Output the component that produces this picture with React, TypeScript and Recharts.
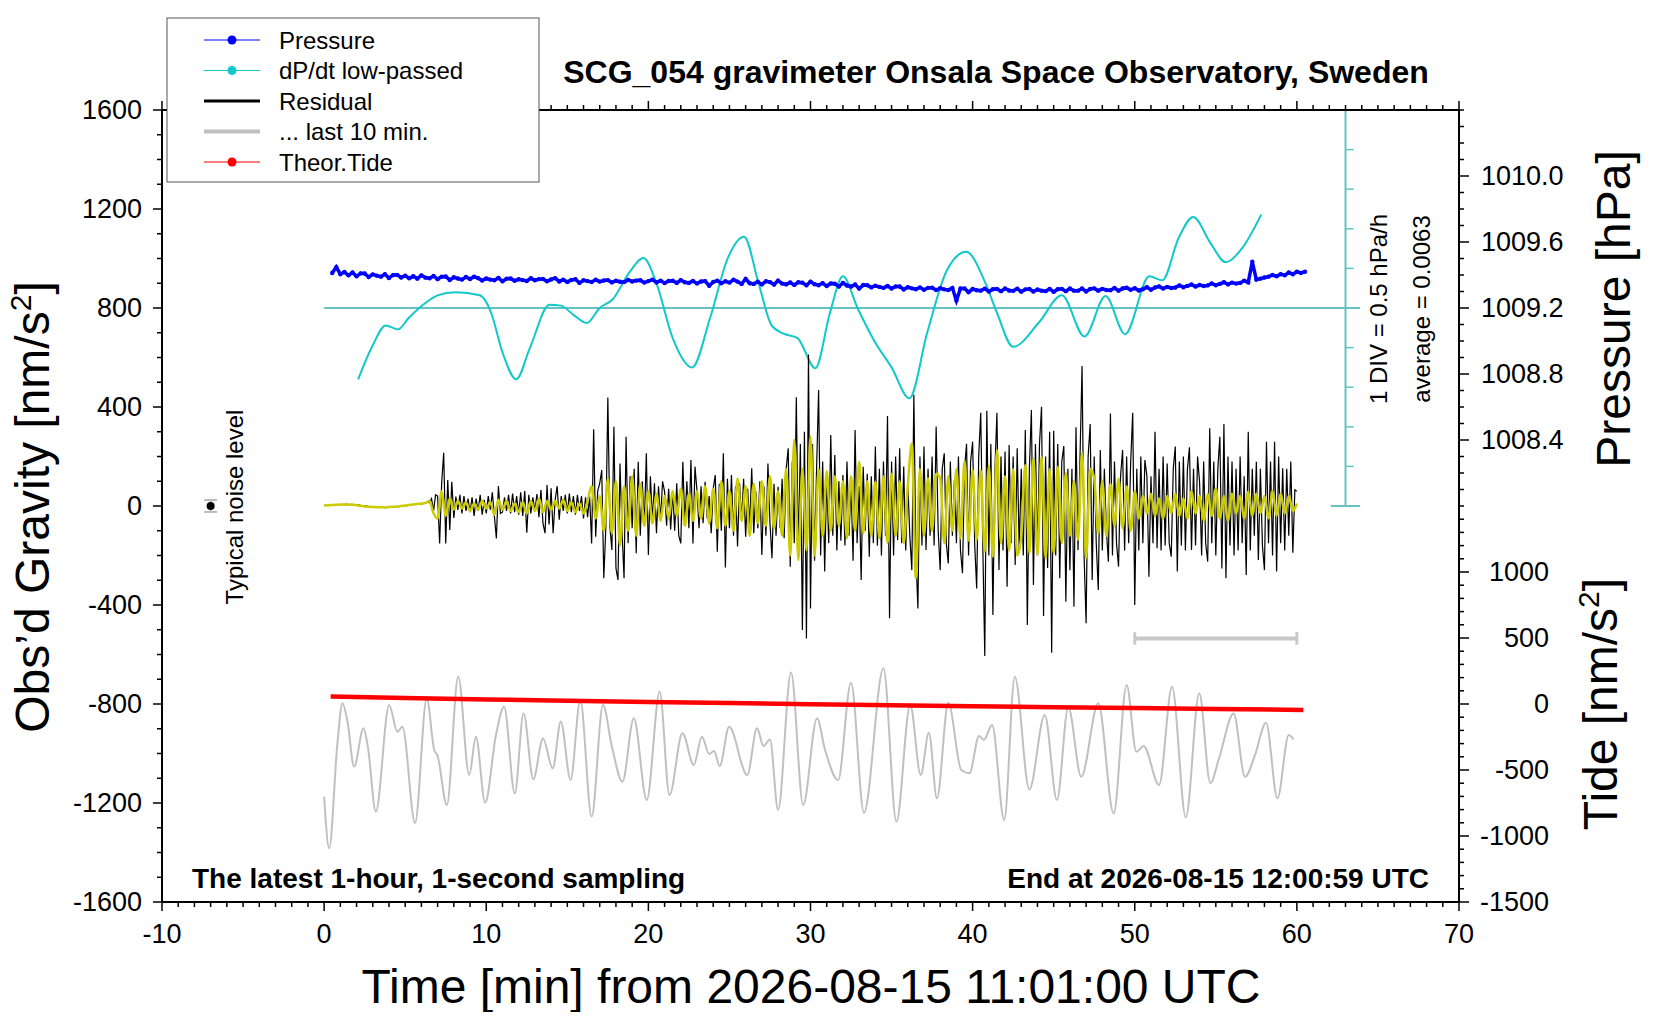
import React from 'react';
import { ComposedChart, Line, XAxis, YAxis, ReferenceLine, ReferenceDot } from 'recharts';

const FONT = '"Liberation Sans", Arial, Helvetica, sans-serif';

// axis labels
const xMajor = [-10, 0, 10, 20, 30, 40, 50, 60, 70];
const gravMajor = [-1600, -1200, -800, -400, 0, 400, 800, 1200, 1600];
const pressureLabels = [1008.4, 1008.8, 1009.2, 1009.6, 1010.0];
const tideLabels = [-1500, -1000, -500, 0, 500, 1000];
const dpdtTicks = [-2.5, -2, -1.5, -1, -0.5, 0, 0.5, 1, 1.5, 2, 2.5];

// residual (nm/s^2), one value every 7.5 s starting at t = 0 min
const RES_STEP = 0.125;
const residual = [
  3, 2, 4, 3, 5, 4, 6, 5, 6, 7, 5, 8, 6, 7, 5, 6,
  4, 5, 3, 2, 1, 0, -2, -3, -4, -3, -5, -6, -4, -5, -7, -6,
  -5, -6, -4, -3, -2, -3, -1, 0, 2, 1, 3, 4, 6, 8, 7, 10,
  8, 10, 12, 15, 14, 30, -20, 45, 40, -151, 92, 215, -151, 105, -97, 98,
  -48, 38, -16, 45, -30, 40, -20, 30, -25, 35, -40, 30, -20, 45, -35, 25,
  -30, 40, -15, 55, -40, -131, 81, -30, -25, 35, -20, 45, -30, 50, -25, 40,
  -35, 55, -40, 60, -108, 45, -30, 35, -20, 48, -45, 65, -70, -110, 85, -75,
  72, -110, 25, 80, -55, 40, -20, 45, -30, 50, -25, 40, -35, 45, -20, 40,
  -50, 35, -45, 40, -151, 310, -124, 60, 92, 145, -292, -90, 438, -83, -178, 320,
  -251, -299, 172, -100, -292, 280, -150, 120, -90, 150, -191, 179, -120, 100, -80, 213,
  -198, 120, -60, 92, -110, 80, -60, 100, 58, -80, 70, -95, 60, -100, 92, -120,
  -151, 179, -70, 100, -90, 186, -151, 159, 60, -90, 80, -70, 98, -50, 40, -110,
  70, 125, -185, 90, -100, 213, -248, 110, -90, 125, -120, 80, -164, 92, -60, 110,
  -124, 70, -80, 152, -110, 60, -90, 100, -198, 80, -120, 172, -70, -211, 90, -120,
  78, -90, 110, -130, 150, 233, -245, 180, -150, 439, -200, 250, -501, 300, -535, 612,
  -414, 250, -221, 150, 469, -200, 180, -265, 120, -150, 287, -120, 206, -180, 100, -140,
  125, -160, 180, -120, 90, -221, 307, -150, 80, -299, 159, -100, 130, -205, 120, -150,
  240, -160, 150, -200, 180, -120, 364, -454, 180, -200, 200, -137, 233, -150, 160, -180,
  100, -120, -259, 449, -200, -414, 200, -160, 240, -178, 150, -120, 200, -160, 321, -100,
  -259, 150, 213, -150, -232, 180, -120, 105, -150, 200, -180, -272, 150, 251, -200, 180,
  260, -150, -333, 200, 377, -150, -606, 385, -200, 250, -440, 150, 377, -259, 200, -180,
  220, -326, 246, -150, 200, -238, 233, -180, 150, -200, 307, -481, 150, 388, -319, 250,
  -200, 250, 401, -444, 200, -250, 300, -593, 304, -200, 250, -292, 180, 242, -387, 150,
  -260, 150, -407, 318, -178, 200, 566, -200, -474, 200, 331, -299, 200, -150, -339, 226,
  -180, 150, -100, -225, 374, -200, 180, -150, -245, 120, 226, -180, 200, -150, 180, 377,
  -400, 150, -180, 200, -150, 186, 120, -286, 120, -150, 300, -171, 150, -180, 200, -160,
  172, -150, -205, 150, 240, -265, 180, -160, 200, -180, 150, 237, -178, 150, -160, 200,
  94, -200, 180, -150, -225, 314, -150, 180, -200, 150, 280, -252, 331, -292, 200, -160,
  180, -200, 150, -180, 200, -150, 120, -279, 300, -180, 150, -120, 179, -218, 150, -160,
  -259, 260, -150, 180, -200, 260, -265, 200, -150, 152, -180, 150, -120, 180, -189, 65,
  60,
];

// low-passed residual (nm/s^2), one value every 15 s starting at t = 0 min
const LP_STEP = 0.25;
const lowPassed = [
  2, 3, 4, 5, 6, 6, 5, 6, 3, 1, -2, -3, -4, -5, -5, -6,
  -4, -3, -2, 0, 2, 4, 6, 8, 10, 12, 20, -30, -50, 60, -40, 30,
  -15, 20, -10, 15, -20, 10, -15, 20, -10, 15, -35, 25, -15, 20, -20, 10,
  -25, 15, -30, 20, -20, 30, -25, 20, -15, 20, -10, 25, -20, 15, -25, 10,
  -30, 20, 80, -50, 40, -100, 110, -110, 100, -160, 80, -100, 120, -120, 90, -80,
  60, -70, 50, -60, 40, -50, 60, -40, 70, -80, 50, -60, 60, -50, 80, -70,
  70, -90, 100, -80, 60, -100, 110, -60, 80, -120, 90, -70, 100, -80, 120, -90,
  60, -120, 150, -200, 267, -218, 150, -178, 280, -200, 150, -120, 140, -100, 120, -80,
  100, -130, 120, -100, 179, -110, 100, -120, 98, -130, 120, -150, 130, -120, 100, -150,
  80, 253, -292, 150, -120, 112, -100, 130, 112, -150, 120, -100, 150, -130, 180, -140,
  145, -137, 145, -185, 162, -205, 226, -150, 120, -180, 150, -200, -124, 166, -191, 193,
  -198, 199, -211, 150, -191, 159, -150, 132, -120, 100, -137, 213, -211, 150, 112, -110,
  100, -120, 90, -80, 110, -90, 80, -100, 60, -50, 40, -30, 50, -40, 30, -50,
  40, -30, 50, -40, 30, -50, 60, -30, 40, -60, 50, -40, 70, -50, 40, -60,
  50, -30, 40, -50, 60, -40, 50, -30, 40, -50, 60, -40, 50, -30, 40, -20,
  10,
];

// air pressure (hPa), one value every 15 s starting at t = 0.5 min
const P_START = 0.5;
const P_STEP = 0.25;
const pressure = [
  1009.412, 1009.448, 1009.405, 1009.418, 1009.398, 1009.415, 1009.392, 1009.41,
  1009.409, 1009.388, 1009.404, 1009.396, 1009.39, 1009.405, 1009.382, 1009.399,
  1009.401, 1009.385, 1009.396, 1009.38, 1009.392, 1009.378, 1009.398, 1009.384,
  1009.38, 1009.394, 1009.375, 1009.389, 1009.391, 1009.37, 1009.386, 1009.379,
  1009.372, 1009.388, 1009.376, 1009.39, 1009.381, 1009.366, 1009.379, 1009.372,
  1009.368, 1009.382, 1009.362, 1009.377, 1009.379, 1009.365, 1009.374, 1009.369,
  1009.364, 1009.38, 1009.368, 1009.375, 1009.376, 1009.362, 1009.373, 1009.381,
  1009.361, 1009.372, 1009.358, 1009.37, 1009.374, 1009.352, 1009.368, 1009.363,
  1009.358, 1009.371, 1009.36, 1009.367, 1009.369, 1009.355, 1009.365, 1009.359,
  1009.357, 1009.37, 1009.361, 1009.366, 1009.368, 1009.354, 1009.363, 1009.372,
  1009.355, 1009.366, 1009.351, 1009.364, 1009.365, 1009.352, 1009.369, 1009.356,
  1009.352, 1009.364, 1009.349, 1009.361, 1009.363, 1009.335, 1009.358, 1009.366,
  1009.35, 1009.362, 1009.354, 1009.371, 1009.36, 1009.346, 1009.376, 1009.35,
  1009.346, 1009.359, 1009.343, 1009.362, 1009.357, 1009.342, 1009.366, 1009.348,
  1009.343, 1009.355, 1009.34, 1009.356, 1009.353, 1009.338, 1009.36, 1009.344,
  1009.338, 1009.351, 1009.333, 1009.349, 1009.347, 1009.33, 1009.352, 1009.336,
  1009.33, 1009.342, 1009.318, 1009.339, 1009.338, 1009.325, 1009.335, 1009.328,
  1009.322, 1009.333, 1009.318, 1009.33, 1009.33, 1009.312, 1009.326, 1009.319,
  1009.314, 1009.325, 1009.31, 1009.322, 1009.323, 1009.309, 1009.32, 1009.313,
  1009.309, 1009.321, 1009.245, 1009.318, 1009.318, 1009.296, 1009.315, 1009.308,
  1009.305, 1009.317, 1009.3, 1009.314, 1009.316, 1009.302, 1009.318, 1009.306,
  1009.304, 1009.317, 1009.299, 1009.313, 1009.315, 1009.3, 1009.312, 1009.305,
  1009.302, 1009.316, 1009.298, 1009.314, 1009.316, 1009.302, 1009.318, 1009.305,
  1009.305, 1009.318, 1009.3, 1009.315, 1009.319, 1009.305, 1009.316, 1009.309,
  1009.308, 1009.321, 1009.305, 1009.318, 1009.323, 1009.31, 1009.32, 1009.306,
  1009.314, 1009.326, 1009.311, 1009.324, 1009.331, 1009.318, 1009.328, 1009.321,
  1009.324, 1009.337, 1009.326, 1009.334, 1009.342, 1009.33, 1009.339, 1009.333,
  1009.337, 1009.349, 1009.338, 1009.346, 1009.356, 1009.343, 1009.354, 1009.348,
  1009.352, 1009.366, 1009.355, 1009.48, 1009.372, 1009.378, 1009.385, 1009.39,
  1009.4, 1009.392, 1009.405, 1009.398, 1009.415, 1009.404, 1009.42, 1009.412,
  1009.42,
];

// dP/dt low-passed (hPa/h)
const dpdtT = [
  2.1, 3.0, 3.8, 4.55, 5.2, 6.1, 7.0, 8.1, 9.6, 10.3, 11.0, 11.85, 12.7, 13.9, 14.6, 15.4,
  16.2, 17.0, 17.8, 18.8, 19.7, 20.5, 21.5, 22.7, 23.8, 24.9, 25.9, 26.8, 27.6, 28.3, 29.2, 30.3,
  31.2, 32.0, 32.9, 34.0, 35.0, 36.1, 37.2, 38.4, 39.6, 40.8, 41.5, 42.5, 44.1, 45.5, 46.9, 48.2,
  49.4, 50.9, 51.7, 52.7, 53.6, 54.7, 55.6, 56.6, 57.8,
];
const dpdtV = [
  -0.9, -0.47, -0.22, -0.27, -0.13, 0.04, 0.16, 0.2, 0.16, -0.06, -0.56, -0.9, -0.5, 0.04, 0.03, -0.09,
  -0.19, 0.0, 0.11, 0.44, 0.63, 0.31, -0.38, -0.75, -0.13, 0.63, 0.9, 0.31, -0.22, -0.32, -0.38, -0.76,
  -0.06, 0.4, 0.0, -0.44, -0.75, -1.14, -0.31, 0.47, 0.71, 0.31, -0.06, -0.49, -0.18, 0.16, -0.36, 0.15,
  -0.33, 0.4, 0.35, 0.88, 1.15, 0.81, 0.58, 0.75, 1.18,
];

// residual of the last 10 min, stretched over the hour (nm/s^2)
const lastT = [
  0.0, 0.31, 0.82, 1.13, 1.44, 1.85, 2.43, 2.7, 3.19, 4.01, 4.52, 4.83, 5.61, 6.33, 6.79, 7.0,
  7.57, 8.27, 8.95, 9.36, 9.93, 10.6, 11.1, 11.76, 12.3, 12.9, 13.5, 14.1, 14.6, 15.2, 15.8, 16.5,
  17.2, 17.75, 18.4, 19.1, 19.9, 20.7, 21.3, 22.1, 22.8, 23.3, 23.75, 24.05, 24.4, 24.98, 26.1, 26.7,
  27.1, 27.5, 28.0, 28.8, 29.55, 30.4, 30.9, 31.7, 32.5, 33.3, 34.5, 35.3, 36.15, 36.8, 37.3, 37.8,
  38.5, 39.3, 39.8, 40.4, 40.7, 41.2, 41.95, 42.6, 43.5, 44.45, 45.2, 45.9, 46.7, 47.75, 48.7, 49.5,
  50.1, 50.55, 51.5, 52.3, 53.15, 53.98, 54.66, 55.2, 56.1, 56.8, 57.4, 58.1, 58.8, 59.5, 59.8,
];
const lastG = [
  -1174, -1383, -959, -797, -871, -1053, -898, -973, -1235, -804, -912, -892, -1280, -777, -986, -1010,
  -1208, -690, -1087, -932, -1199, -925, -811, -1161, -838, -1104, -939, -1060, -871, -1107, -784, -1255,
  -804, -972, -1114, -858, -1188, -750, -1168, -918, -1046, -932, -1002, -990, -1051, -892, -1087, -898,
  -970, -943, -1228, -673, -1208, -858, -986, -1107, -714, -1239, -656, -1275, -804, -1087, -916, -1181,
  -795, -1067, -1080, -929, -945, -885, -1269, -690, -1145, -844, -1188, -813, -1094, -797, -1242, -723,
  -993, -970, -1127, -730, -1258, -757, -1120, -1019, -838, -1094, -1010, -876, -1181, -925, -943,
];

// theoretical tide (nm/s^2)
const tideT = [0.4, 5, 10, 15, 20, 25, 30, 35, 40, 45, 50, 55, 60.4];
const tideV = [56, 45, 35, 25, 16, 7, -1, -9, -17, -24, -31, -38, -45];

// secondary scales share the plot height with the gravity axis
const G_DOMAIN: [number, number] = [-1600, 1600];
const P_DOMAIN: [number, number] = [1005.6, 1010.4];
const TIDE_DOMAIN: [number, number] = [-1500, 4500];
const DPDT_DOMAIN: [number, number] = [-7.5, 2.5];
const toG = (v: number, d: [number, number]) => G_DOMAIN[0] + ((v - d[0]) / (d[1] - d[0])) * (G_DOMAIN[1] - G_DOMAIN[0]);

const resData = residual.map((g, i) => ({ t: i * RES_STEP, g }));
const lpData = lowPassed.map((g, i) => ({ t: i * LP_STEP, g }));
const pData = pressure.map((p, i) => ({ t: P_START + i * P_STEP, p }));
const dpdtData = dpdtT.map((t, i) => ({ t, v: dpdtV[i] }));
const lastData = lastT.map((t, i) => ({ t, g: lastG[i] }));
const tideData = tideT.map((t, i) => ({ t, v: tideV[i] }));

const xTicks: number[] = [];
for (let v = -10; v <= 70; v++) xTicks.push(v);
const gTicks: number[] = [];
for (let v = -1600; v <= 1600; v += 100) gTicks.push(v);

type RT = { g: number; label?: string; kind: 'p' | 't' };
const rightTicks: RT[] = [];
for (let i = 0; i <= 24; i++) {
  const p = Math.round((1008 + i * 0.1) * 10) / 10;
  const lab = pressureLabels.find((l) => Math.abs(l - p) < 1e-6);
  rightTicks.push({ g: toG(p, P_DOMAIN), label: lab !== undefined ? lab.toFixed(1) : undefined, kind: 'p' });
}
for (let v = -1500; v < 1500; v += 100) {
  const lab = tideLabels.includes(v) ? String(v) : undefined;
  rightTicks.push({ g: toG(v, TIDE_DOMAIN), label: lab, kind: 't' });
}

const PLOT = { left: 154, right: 1451, top: 102, bottom: 894 };
const W = 1644;
const H = 1004;

const BottomTick = (props: any) => {
  const { x, y, payload } = props;
  const v = payload.value;
  const major = xMajor.includes(v);
  return (
    <g>
      <line x1={x} x2={x} y1={y} y2={y + (major ? 9 : 5)} stroke="#000" strokeWidth={1.5} />
      {major && (
        <text x={x} y={y + 41} textAnchor="middle" fontSize={27} fontFamily={FONT} fill="#000">
          {v}
        </text>
      )}
    </g>
  );
};

const TopTick = (props: any) => {
  const { x, y, payload } = props;
  const major = xMajor.includes(payload.value);
  return <line x1={x} x2={x} y1={y} y2={y - (major ? 9 : 5)} stroke="#000" strokeWidth={1.5} />;
};

const LeftTick = (props: any) => {
  const { x, y, payload } = props;
  const v = payload.value;
  const major = gravMajor.includes(v);
  return (
    <g>
      <line x1={x} x2={x - (major ? 9 : 5)} y1={y} y2={y} stroke="#000" strokeWidth={1.5} />
      {major && (
        <text x={x - 20} y={y + 9} textAnchor="end" fontSize={27} fontFamily={FONT} fill="#000">
          {v}
        </text>
      )}
    </g>
  );
};

const RightTick = (props: any) => {
  const { x, y, payload } = props;
  const e = rightTicks.find((r) => Math.abs(r.g - payload.value) < 0.01);
  if (!e) return <g />;
  const major = e.label !== undefined;
  return (
    <g>
      <line x1={x} x2={x + (major ? 10 : 5)} y1={y} y2={y} stroke="#000" strokeWidth={1.5} />
      {major && (
        <text
          x={e.kind === 'p' ? x + 22 : x + 90}
          y={y + 9}
          textAnchor={e.kind === 'p' ? 'start' : 'end'}
          fontSize={27}
          fontFamily={FONT}
          fill="#000"
        >
          {e.label}
        </text>
      )}
    </g>
  );
};

const axisLine = { stroke: '#000', strokeWidth: 2 };
const TEAL = '#66c2c2';
const CYAN = '#12c8c8';

const legendRows = [
  { name: 'Pressure', color: '#0000ff', width: 1, dot: true },
  { name: 'dP/dt low-passed', color: CYAN, width: 1, dot: true },
  { name: 'Residual', color: '#000000', width: 3, dot: false },
  { name: '... last 10 min.', color: '#c0c0c0', width: 4, dot: false },
  { name: 'Theor.Tide', color: '#ff0000', width: 1, dot: true },
];

export default function App() {
  return (
    <div style={{ position: 'relative', width: W, height: H, fontFamily: FONT, background: '#fff' }}>
      <ComposedChart
        width={W}
        height={H}
        margin={{ top: PLOT.top - 10, right: W - PLOT.right - 120, bottom: H - PLOT.bottom - 40, left: PLOT.left - 80 }}
      >
        <XAxis
          dataKey="t"
          type="number"
          domain={[-10, 70]}
          allowDataOverflow
          ticks={xTicks}
          interval={0}
          height={40}
          tickSize={0}
          tickMargin={0}
          tickLine={false}
          axisLine={axisLine}
          tick={BottomTick}
        />
        <XAxis
          xAxisId="top"
          orientation="top"
          dataKey="t"
          type="number"
          domain={[-10, 70]}
          allowDataOverflow
          ticks={xTicks}
          interval={0}
          height={10}
          tickSize={0}
          tickMargin={0}
          tickLine={false}
          axisLine={axisLine}
          tick={TopTick}
        />
        <YAxis
          type="number"
          domain={G_DOMAIN}
          allowDataOverflow
          ticks={gTicks}
          interval={0}
          width={80}
          tickSize={0}
          tickMargin={0}
          tickLine={false}
          axisLine={axisLine}
          tick={LeftTick}
        />
        <YAxis
          yAxisId="r"
          orientation="right"
          type="number"
          domain={G_DOMAIN}
          allowDataOverflow
          ticks={rightTicks.map((r) => r.g)}
          interval={0}
          width={120}
          tickSize={0}
          tickMargin={0}
          tickLine={false}
          axisLine={axisLine}
          tick={RightTick}
        />
        <YAxis yAxisId="p" hide type="number" domain={P_DOMAIN} allowDataOverflow />
        <YAxis yAxisId="dp" hide type="number" domain={DPDT_DOMAIN} allowDataOverflow />
        <YAxis yAxisId="tide" hide type="number" domain={TIDE_DOMAIN} allowDataOverflow />

        {/* dP/dt scale */}
        <ReferenceLine yAxisId="dp" segment={[{ x: 63, y: -2.5 }, { x: 63, y: 2.5 }]} stroke={TEAL} strokeWidth={2} />
        <ReferenceLine yAxisId="dp" segment={[{ x: 0, y: 0 }, { x: 63.9, y: 0 }]} stroke={TEAL} strokeWidth={2} />
        <ReferenceLine yAxisId="dp" segment={[{ x: 62.1, y: -2.5 }, { x: 63.9, y: -2.5 }]} stroke={TEAL} strokeWidth={2} />
        <ReferenceLine yAxisId="dp" segment={[{ x: 62.1, y: 2.5 }, { x: 63.9, y: 2.5 }]} stroke={TEAL} strokeWidth={2} />
        {dpdtTicks
          .filter((v) => Math.abs(v) < 2.4 && v !== 0)
          .map((v) => (
            <ReferenceLine key={v} yAxisId="dp" segment={[{ x: 63, y: v }, { x: 63.5, y: v }]} stroke={TEAL} strokeWidth={1.5} />
          ))}

        <Line yAxisId="dp" data={dpdtData} dataKey="v" type="monotone" stroke={CYAN} strokeWidth={2} dot={false} activeDot={false} isAnimationActive={false} />
        <Line
          yAxisId="p"
          data={pData}
          dataKey="p"
          type="linear"
          stroke="#0000ff"
          strokeWidth={3.5}
          dot={{ r: 2.2, fill: '#0000ff', stroke: 'none' }}
          activeDot={false}
          isAnimationActive={false}
        />
        <Line data={resData} dataKey="g" type="linear" stroke="#000" strokeWidth={1.2} dot={false} activeDot={false} isAnimationActive={false} />
        <Line data={lpData} dataKey="g" type="monotone" stroke="#cccc00" strokeWidth={2.5} dot={false} activeDot={false} isAnimationActive={false} />
        <Line data={lastData} dataKey="g" type="monotone" stroke="#c0c0c0" strokeWidth={2} dot={false} activeDot={false} isAnimationActive={false} />
        <Line yAxisId="tide" data={tideData} dataKey="v" type="linear" stroke="#ff0000" strokeWidth={4.5} dot={false} activeDot={false} isAnimationActive={false} />

        {/* span of the last 10 minutes */}
        <ReferenceLine segment={[{ x: 50, y: -535 }, { x: 60, y: -535 }]} stroke="#c8c8c8" strokeWidth={4} />
        <ReferenceLine segment={[{ x: 50, y: -510 }, { x: 50, y: -560 }]} stroke="#c8c8c8" strokeWidth={3} />
        <ReferenceLine segment={[{ x: 60, y: -510 }, { x: 60, y: -560 }]} stroke="#c8c8c8" strokeWidth={3} />

        {/* typical noise level */}
        <ReferenceLine segment={[{ x: -7.4, y: 24 }, { x: -6.6, y: 24 }]} stroke="#bbbbbb" strokeWidth={2} />
        <ReferenceLine segment={[{ x: -7.4, y: -24 }, { x: -6.6, y: -24 }]} stroke="#bbbbbb" strokeWidth={2} />
        <ReferenceLine segment={[{ x: -7, y: -24 }, { x: -7, y: 24 }]} stroke="#bbbbbb" strokeWidth={2} />
        <ReferenceDot x={-7} y={0} r={4} fill="#000" stroke="none" />
      </ComposedChart>

      <svg
        width={W}
        height={H}
        style={{ position: 'absolute', left: 0, top: 0, pointerEvents: 'none', overflow: 'visible' }}
        fontFamily={FONT}
      >
        <text x={988} y={75} textAnchor="middle" fontSize={32} fontWeight="bold" fill="#000">
          SCG_054 gravimeter Onsala Space Observatory, Sweden
        </text>
        <text x={184} y={880} fontSize={28} fontWeight="bold" fill="#000">
          The latest 1-hour, 1-second sampling
        </text>
        <text x={1421} y={880} textAnchor="end" fontSize={28} fontWeight="bold" fill="#000">
          End at 2026-08-15 12:00:59 UTC
        </text>
        <text x={803} y={995} textAnchor="middle" fontSize={48} fill="#000">
          Time [min] from 2026-08-15 11:01:00 UTC
        </text>
        <text transform="translate(41,499) rotate(-90)" textAnchor="middle" fontSize={48} fill="#000">
          Obs’d Gravity [nm/s<tspan dy={-18} fontSize={30}>2</tspan>
          <tspan dy={18}>]</tspan>
        </text>
        <text transform="translate(1622,301) rotate(-90)" textAnchor="middle" fontSize={48} fill="#000">
          Pressure [hPa]
        </text>
        <text transform="translate(1609,696) rotate(-90)" textAnchor="middle" fontSize={48} fill="#000">
          Tide [nm/s<tspan dy={-18} fontSize={30}>2</tspan>
          <tspan dy={18}>]</tspan>
        </text>
        <text transform="translate(235,499) rotate(-90)" textAnchor="middle" fontSize={24} fill="#000">
          Typical noise level
        </text>
        <text transform="translate(1379,301) rotate(-90)" textAnchor="middle" fontSize={24} fill="#000">
          1 DIV = 0.5 hPa/h
        </text>
        <text transform="translate(1422,301) rotate(-90)" textAnchor="middle" fontSize={24} fill="#000">
          average = 0.0063
        </text>

        <g transform="translate(159,10)">
          <rect x={0} y={0} width={372} height={164} fill="#fff" stroke="#555" strokeWidth={1} />
          {legendRows.map((r, i) => {
            const cy = 22 + i * 30.5;
            return (
              <g key={r.name}>
                <line x1={37} x2={93} y1={cy} y2={cy} stroke={r.color} strokeWidth={r.width} />
                {r.dot && <circle cx={65} cy={cy} r={4.5} fill={r.color} />}
                <text x={112} y={cy + 8.5} fontSize={24} fill="#000">
                  {r.name}
                </text>
              </g>
            );
          })}
        </g>
      </svg>
    </div>
  );
}
